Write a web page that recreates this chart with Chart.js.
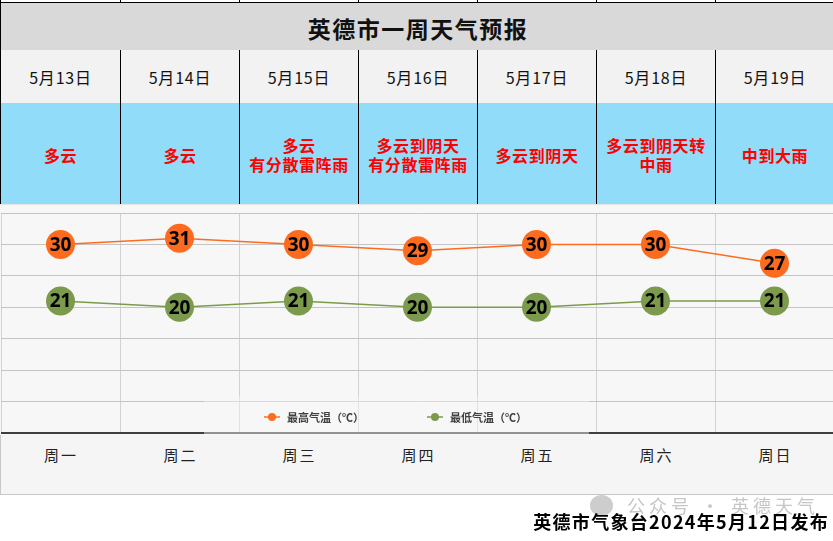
<!DOCTYPE html>
<html>
<head>
<meta charset="utf-8">
<script src="https://cdn.jsdelivr.net/npm/chart.js@4.4.1/dist/chart.umd.min.js"></script>
<style>
  html, body { margin: 0; padding: 0; background: #fff; }
  body { width: 833px; height: 541px; overflow: hidden; position: relative; font-family: "Noto Sans CJK SC", sans-serif; }
  .row { position: absolute; left: 0; width: 840px; display: flex; box-sizing: border-box; }
  .cell { box-sizing: border-box; border-left: 1px solid #000; width: 119px; flex: none; display: flex; align-items: center; justify-content: center; text-align: center; }
  .cell:first-child { width: 120px; }
  #strip { top: 0; height: 3px; border-bottom: 1px solid #000; }
  #title { position: absolute; top: 2px; left: 0; width: 836px; height: 49px; box-sizing: border-box; border: 1px solid #000; background: #d9d9d9;
           font-weight: bold; font-size: 23px; letter-spacing: 1.5px; color: #111; display: flex; align-items: center; justify-content: center; padding-top: 2px; }
  #dates { top: 50px; height: 54px; background: #f2f2f2; border-bottom: 1px solid #000; font-size: 16px; letter-spacing: 0.8px; color: #111; }
  #weather { top: 103px; height: 101px; background: #91dcf8; color: #ff0000; font-weight: bold; font-size: 16px; line-height: 19px; letter-spacing: 0.6px; }
  #weather .cell { white-space: pre-line; padding-top: 3px; }
  #chartBox { position: absolute; left: 0; top: 204px; width: 835px; height: 232px; background: #f7f7f7; border-top: 1px solid #e4e4e4; box-sizing: border-box; }
  #days { top: 435px; height: 60px; background: #f5f5f5; border-bottom: 1px solid #c8c8c8; border-left: 1px solid #c8c8c8; font-size: 15px; letter-spacing: 2px; color: #222; }
  #days .cell { border-left: none; align-items: flex-start; padding-top: 10px; line-height: 20px; }
  #mark { position: absolute; left: 590px; top: 493px; height: 24px; color: #c6c6c6; font-size: 18px; letter-spacing: 4px; display: flex; align-items: center; white-space: nowrap; }
  #mark .ic { width: 23px; height: 21px; border-radius: 50%; background: #cdcdcd; margin-right: 14px; }
  #footer { position: absolute; right: 4px; top: 508px; font-size: 18px; font-weight: bold; letter-spacing: 1.3px; color: #000; line-height: 26px; white-space: nowrap; }
</style>
</head>
<body>
<div id="strip" class="row"></div>
<div id="title">英德市一周天气预报</div>
<div id="dates" class="row"></div>
<div id="weather" class="row"></div>
<div id="chartBox"><canvas id="tempChart"></canvas></div>
<div id="days" class="row"></div>
<div id="mark"><span class="ic"></span>公众号 · 英德天气</div>
<div id="footer">英德市气象台2024年5月12日发布</div>

<script>
const weekDays = ['周一', '周二', '周三', '周四', '周五', '周六', '周日'];
const dateLabels = ['5月13日', '5月14日', '5月15日', '5月16日', '5月17日', '5月18日', '5月19日'];
const weatherText = ['多云', '多云', '多云\n有分散雷阵雨', '多云到阴天\n有分散雷阵雨', '多云到阴天', '多云到阴天转\n中雨', '中到大雨'];
const highTemps = [30, 31, 30, 29, 30, 30, 27];
const lowTemps = [21, 20, 21, 20, 20, 21, 21];
const seriesNames = ['最高气温（℃）', '最低气温（℃）'];
const yMin = 0, yMax = 35, yStep = 5;

const ORANGE = '#fd6c1e';
const GREEN = '#7b9a4c';

function fillRow(id, items) {
    const row = document.getElementById(id);
    items.forEach(t => {
        const c = document.createElement('div');
        c.className = 'cell';
        c.textContent = t;
        row.appendChild(c);
    });
}
fillRow('strip', weekDays.map(() => ''));
fillRow('dates', dateLabels);
fillRow('weather', weatherText);
fillRow('days', weekDays);

// numbers inside the circles
const valueLabels = {
    id: 'valueLabels',
    afterDatasetsDraw(chart) {
        const ctx = chart.ctx;
        ctx.save();
        ctx.font = 'bold 19px "Noto Sans", sans-serif';
        ctx.fillStyle = '#000';
        ctx.textAlign = 'center';
        ctx.textBaseline = 'middle';
        chart.data.datasets.forEach((ds, i) => {
            chart.getDatasetMeta(i).data.forEach((pt, j) => {
                ctx.fillText(ds.data[j], pt.x, pt.y + 1);
            });
        });
        ctx.restore();
    }
};

// legend sits inside the plot, near the bottom
const insideLegend = {
    id: 'insideLegend',
    afterDraw(chart) {
        const { ctx, chartArea } = chart;
        const top = chartArea.bottom - 37;
        ctx.save();
        ctx.fillStyle = 'rgba(247,247,247,0.45)';
        ctx.fillRect(204, top, 385, chartArea.bottom - top + 2);
        const y = chartArea.bottom - 16;
        const starts = [264, 427];
        ctx.font = 'bold 11px "Noto Sans CJK SC", sans-serif';
        ctx.textBaseline = 'middle';
        chart.data.datasets.forEach((ds, i) => {
            const x0 = starts[i];
            ctx.strokeStyle = ds.borderColor;
            ctx.lineWidth = 1.5;
            ctx.beginPath();
            ctx.moveTo(x0, y);
            ctx.lineTo(x0 + 16, y);
            ctx.stroke();
            ctx.fillStyle = ds.borderColor;
            ctx.beginPath();
            ctx.arc(x0 + 8, y, 4, 0, Math.PI * 2);
            ctx.fill();
            ctx.fillStyle = '#404040';
            ctx.fillText(ds.label, x0 + 23, y + 1);
        });
        ctx.restore();
    }
};

new Chart(document.getElementById('tempChart'), {
    type: 'line',
    data: {
        labels: weekDays,
        datasets: [{
            label: seriesNames[0],
            data: highTemps,
            borderColor: ORANGE,
            backgroundColor: ORANGE,
            pointBackgroundColor: ORANGE,
            pointBorderWidth: 0,
            pointRadius: 14.5,
            borderWidth: 1.5,
            tension: 0
        }, {
            label: seriesNames[1],
            data: lowTemps,
            borderColor: GREEN,
            backgroundColor: GREEN,
            pointBackgroundColor: GREEN,
            pointBorderWidth: 0,
            pointRadius: 14.5,
            borderWidth: 1.5,
            tension: 0
        }]
    },
    options: {
        responsive: true,
        maintainAspectRatio: false,
        animation: false,
        layout: { autoPadding: false, padding: { top: 8, left: 1, right: 1, bottom: 3 } },
        plugins: { legend: { display: false }, tooltip: { enabled: false } },
        scales: {
            x: {
                offset: true,
                grid: { offset: true, color: '#d2d2d2', drawTicks: false },
                border: { display: false },
                ticks: { display: false }
            },
            y: {
                min: yMin,
                max: yMax,
                ticks: { stepSize: yStep, display: false },
                grid: {
                    drawTicks: false,
                    color: c => c.tick.value === 0 ? '#3f3f3f' : '#c4c4c4',
                    lineWidth: c => c.tick.value === 0 ? 2 : 1
                },
                border: { display: false }
            }
        }
    },
    plugins: [valueLabels, insideLegend]
});
</script>
</body>
</html>
